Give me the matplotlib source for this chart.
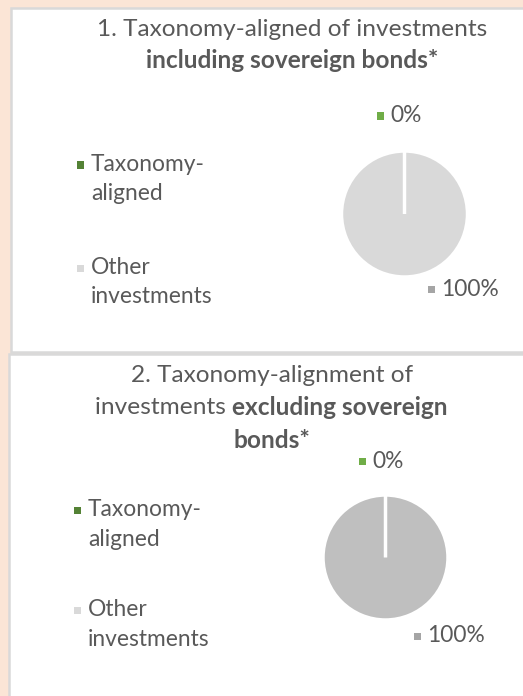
import matplotlib
matplotlib.use("Agg")
import matplotlib.pyplot as plt
from matplotlib.patches import Rectangle

plt.rcParams['font.family'] = ['Lato', 'DejaVu Sans']

W, H = 523, 696

categories = ["Taxonomy-\naligned", "Other\ninvestments"]
incl_values = [0, 100]   # including sovereign bonds
excl_values = [0, 100]   # excluding sovereign bonds

legend_colors = ["#548235", "#d9d9d9"]
label_colors = ["#70ad47", "#a5a5a5"]
txt = "#595959"

fig = plt.figure(figsize=(W / 100, H / 100), dpi=100)
fig.patch.set_facecolor("#fbe5d6")


def fx(x):
    return x / W


def fy(y):
    return 1 - y / H


def panel(x0, y0, x1, y1):
    fig.patches.append(Rectangle((fx(x0), fy(y1)), fx(x1 - x0), (y1 - y0) / H,
                                 transform=fig.transFigure, facecolor="white",
                                 edgecolor="#d9d9d9", linewidth=1.8, zorder=-1))


def mixed_line(parts, xc, y, size):
    # parts: list of (text, weight); centered as one line at xc
    r = fig.canvas.get_renderer()
    objs = []
    for s, w in parts:
        t = fig.text(0, fy(y), s, fontsize=size, fontweight=w, color=txt,
                     va="center", ha="left")
        objs.append(t)
    widths = [t.get_window_extent(r).width for t in objs]
    x = xc - sum(widths) / 2
    for t, w in zip(objs, widths):
        t.set_x(fx(x))
        x += w


def legend(x, y, gap):
    for i, (lab, c) in enumerate(zip(categories, legend_colors)):
        yy = y + i * gap
        fig.patches.append(Rectangle((fx(x - 3.5), fy(yy + 3.5)), 7 / W, 7 / H,
                                     transform=fig.transFigure, facecolor=c,
                                     edgecolor="none"))
        fig.text(fx(x + 11), fy(yy - 11), lab, fontsize=16.4, color=txt,
                 va="top", ha="left", linespacing=1.5)


def pie(cx, cy, r, values, face, lab_pos):
    ax = fig.add_axes([fx(cx - r), fy(cy + r), 2 * r / W, 2 * r / H])
    wedges, _ = ax.pie(values, colors=[label_colors[0], face], startangle=90,
                       counterclock=False,
                       wedgeprops=dict(edgecolor="white", linewidth=2.5))
    # keep the empty slice's white border visible on top
    wedges[0].set_zorder(3)
    ax.set_xlim(-1, 1)
    ax.set_ylim(-1, 1)
    ax.set_aspect("auto")
    total = sum(values)
    for v, c, (px, py) in zip(values, label_colors, lab_pos):
        fig.patches.append(Rectangle((fx(px - 3.5), fy(py + 3.5)), 7 / W, 7 / H,
                                     transform=fig.transFigure, facecolor=c,
                                     edgecolor="none"))
        fig.text(fx(px + 10), fy(py), f"{v / total:.0%}", fontsize=16.4,
                 color=txt, va="center", ha="left")


panel(11, 8, 530, 352)
panel(9, 354, 530, 710)

mixed_line([("1. Taxonomy-aligned of investments", "normal")], 292, 30, 17.6)
mixed_line([("including sovereign bonds*", "bold")], 292, 60, 17.6)
legend(80, 165, 103)
pie(404.5, 214, 63, incl_values, "#d9d9d9", [(380, 116), (431, 289)])

mixed_line([("2. Taxonomy-alignment of", "normal")], 272, 376, 17.6)
mixed_line([("investments ", "normal"), ("excluding sovereign", "bold")], 271, 408, 17.6)
mixed_line([("bonds*", "bold")], 272, 440, 17.6)
legend(77, 510, 100)
pie(385.5, 557.5, 62.5, excl_values, "#bfbfbf", [(362, 461), (417, 636)])

fig.savefig("out.png", dpi=100, facecolor=fig.get_facecolor())
